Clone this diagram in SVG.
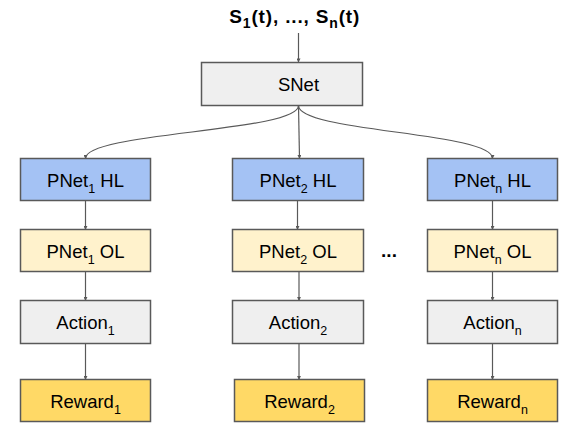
<svg xmlns="http://www.w3.org/2000/svg" width="577" height="436" viewBox="0 0 577 436">
<defs>
<marker id="ah" viewBox="0 0 10 10" refX="9" refY="5" markerWidth="4" markerHeight="4" markerUnits="userSpaceOnUse" orient="auto">
<path d="M0,0 L10,5 L0,10 z" fill="#595959"/>
</marker>
<style>
.box{stroke:#595959;stroke-width:1.5}
.snet{fill:#efefef}
.hl{fill:#a4c2f4}
.ol{fill:#fff2cc}
.act{fill:#efefef}
.rew{fill:#ffd966}
.lbl{font-family:"Liberation Sans",Arial,sans-serif;font-size:18.5px;fill:#000;text-anchor:middle}
.sub{font-size:12.5px}
.title{font-family:"Liberation Sans",Arial,sans-serif;font-size:19px;font-weight:bold;fill:#000;text-anchor:middle}
.tsub{font-size:14px}
.con{fill:none;stroke:#595959;stroke-width:1.2;marker-end:url(#ah)}
</style>
</defs>
<rect width="577" height="436" fill="#fff"/>
<g id="connectors">
<path class="con" d="M298.5,33 L298.5,62"/>
<path class="con" d="M298.5,105.5 C298.5,132 85.5,132 85.5,158.5"/>
<path class="con" d="M298.5,105.5 L299.5,158.5"/>
<path class="con" d="M298.5,105.5 C298.5,132 492.5,132 492.5,158.5"/>
<path class="con" d="M85.5,200.5 L85.5,229.5"/>
<path class="con" d="M85.5,271.5 L85.5,300.5"/>
<path class="con" d="M85.5,343.5 L85.5,379.5"/>
<path class="con" d="M297.5,200.5 L297.5,229.5"/>
<path class="con" d="M299,271.5 L299,300.5"/>
<path class="con" d="M299,343.5 L299,379.5"/>
<path class="con" d="M492.5,200.5 L492.5,229.5"/>
<path class="con" d="M492.5,271.5 L492.5,300.5"/>
<path class="con" d="M492.5,343.5 L492.5,379.5"/>
</g>
<g id="title">
<text class="title" x="294.3" y="23" textLength="130" lengthAdjust="spacing">S<tspan class="tsub" dy="5">1</tspan><tspan dy="-5">(t), ..., S</tspan><tspan class="tsub" dy="5">n</tspan><tspan dy="-5">(t)</tspan></text>
</g>
<g id="snet">
<rect class="box snet" x="201.5" y="62.5" width="161" height="43"/>
<text class="lbl" x="298.5" y="91">SNet</text>
</g>
<g id="pnet1-hl">
<rect class="box hl" x="20.5" y="158.5" width="130" height="42"/>
<text class="lbl" x="85.5" y="187">PNet<tspan class="sub" dy="6">1</tspan><tspan dy="-6"> HL</tspan></text>
</g>
<g id="pnet1-ol">
<rect class="box ol" x="20.5" y="229.5" width="130" height="42"/>
<text class="lbl" x="85.5" y="258">PNet<tspan class="sub" dy="6">1</tspan><tspan dy="-6"> OL</tspan></text>
</g>
<g id="action1">
<rect class="box act" x="20.5" y="300.5" width="130" height="43"/>
<text class="lbl" x="85.5" y="329">Action<tspan class="sub" dy="6">1</tspan></text>
</g>
<g id="reward1">
<rect class="box rew" x="20.5" y="379.5" width="130" height="42"/>
<text class="lbl" x="85.5" y="408">Reward<tspan class="sub" dy="6">1</tspan></text>
</g>
<g id="pnet2-hl">
<rect class="box hl" x="232.5" y="158.5" width="131" height="42"/>
<text class="lbl" x="298" y="187">PNet<tspan class="sub" dy="6">2</tspan><tspan dy="-6"> HL</tspan></text>
</g>
<g id="pnet2-ol">
<rect class="box ol" x="232.5" y="229.5" width="131" height="42"/>
<text class="lbl" x="298" y="258">PNet<tspan class="sub" dy="6">2</tspan><tspan dy="-6"> OL</tspan></text>
</g>
<g id="action2">
<rect class="box act" x="232.5" y="300.5" width="131" height="43"/>
<text class="lbl" x="298" y="329">Action<tspan class="sub" dy="6">2</tspan></text>
</g>
<g id="reward2">
<rect class="box rew" x="234.5" y="379.5" width="130" height="42"/>
<text class="lbl" x="299.5" y="408">Reward<tspan class="sub" dy="6">2</tspan></text>
</g>
<g id="pnetn-hl">
<rect class="box hl" x="427.5" y="158.5" width="130" height="42"/>
<text class="lbl" x="492.5" y="187">PNet<tspan class="sub" dy="6">n</tspan><tspan dy="-6"> HL</tspan></text>
</g>
<g id="pnetn-ol">
<rect class="box ol" x="427.5" y="229.5" width="130" height="42"/>
<text class="lbl" x="492.5" y="258">PNet<tspan class="sub" dy="6">n</tspan><tspan dy="-6"> OL</tspan></text>
</g>
<g id="actionn">
<rect class="box act" x="427.5" y="300.5" width="130" height="43"/>
<text class="lbl" x="492.5" y="329">Action<tspan class="sub" dy="6">n</tspan></text>
</g>
<g id="rewardn">
<rect class="box rew" x="427.5" y="379.5" width="130" height="42"/>
<text class="lbl" x="492.5" y="408">Reward<tspan class="sub" dy="6">n</tspan></text>
</g>
<g id="ellipsis">
<text class="title" x="389" y="256.5">...</text>
</g>
</svg>
